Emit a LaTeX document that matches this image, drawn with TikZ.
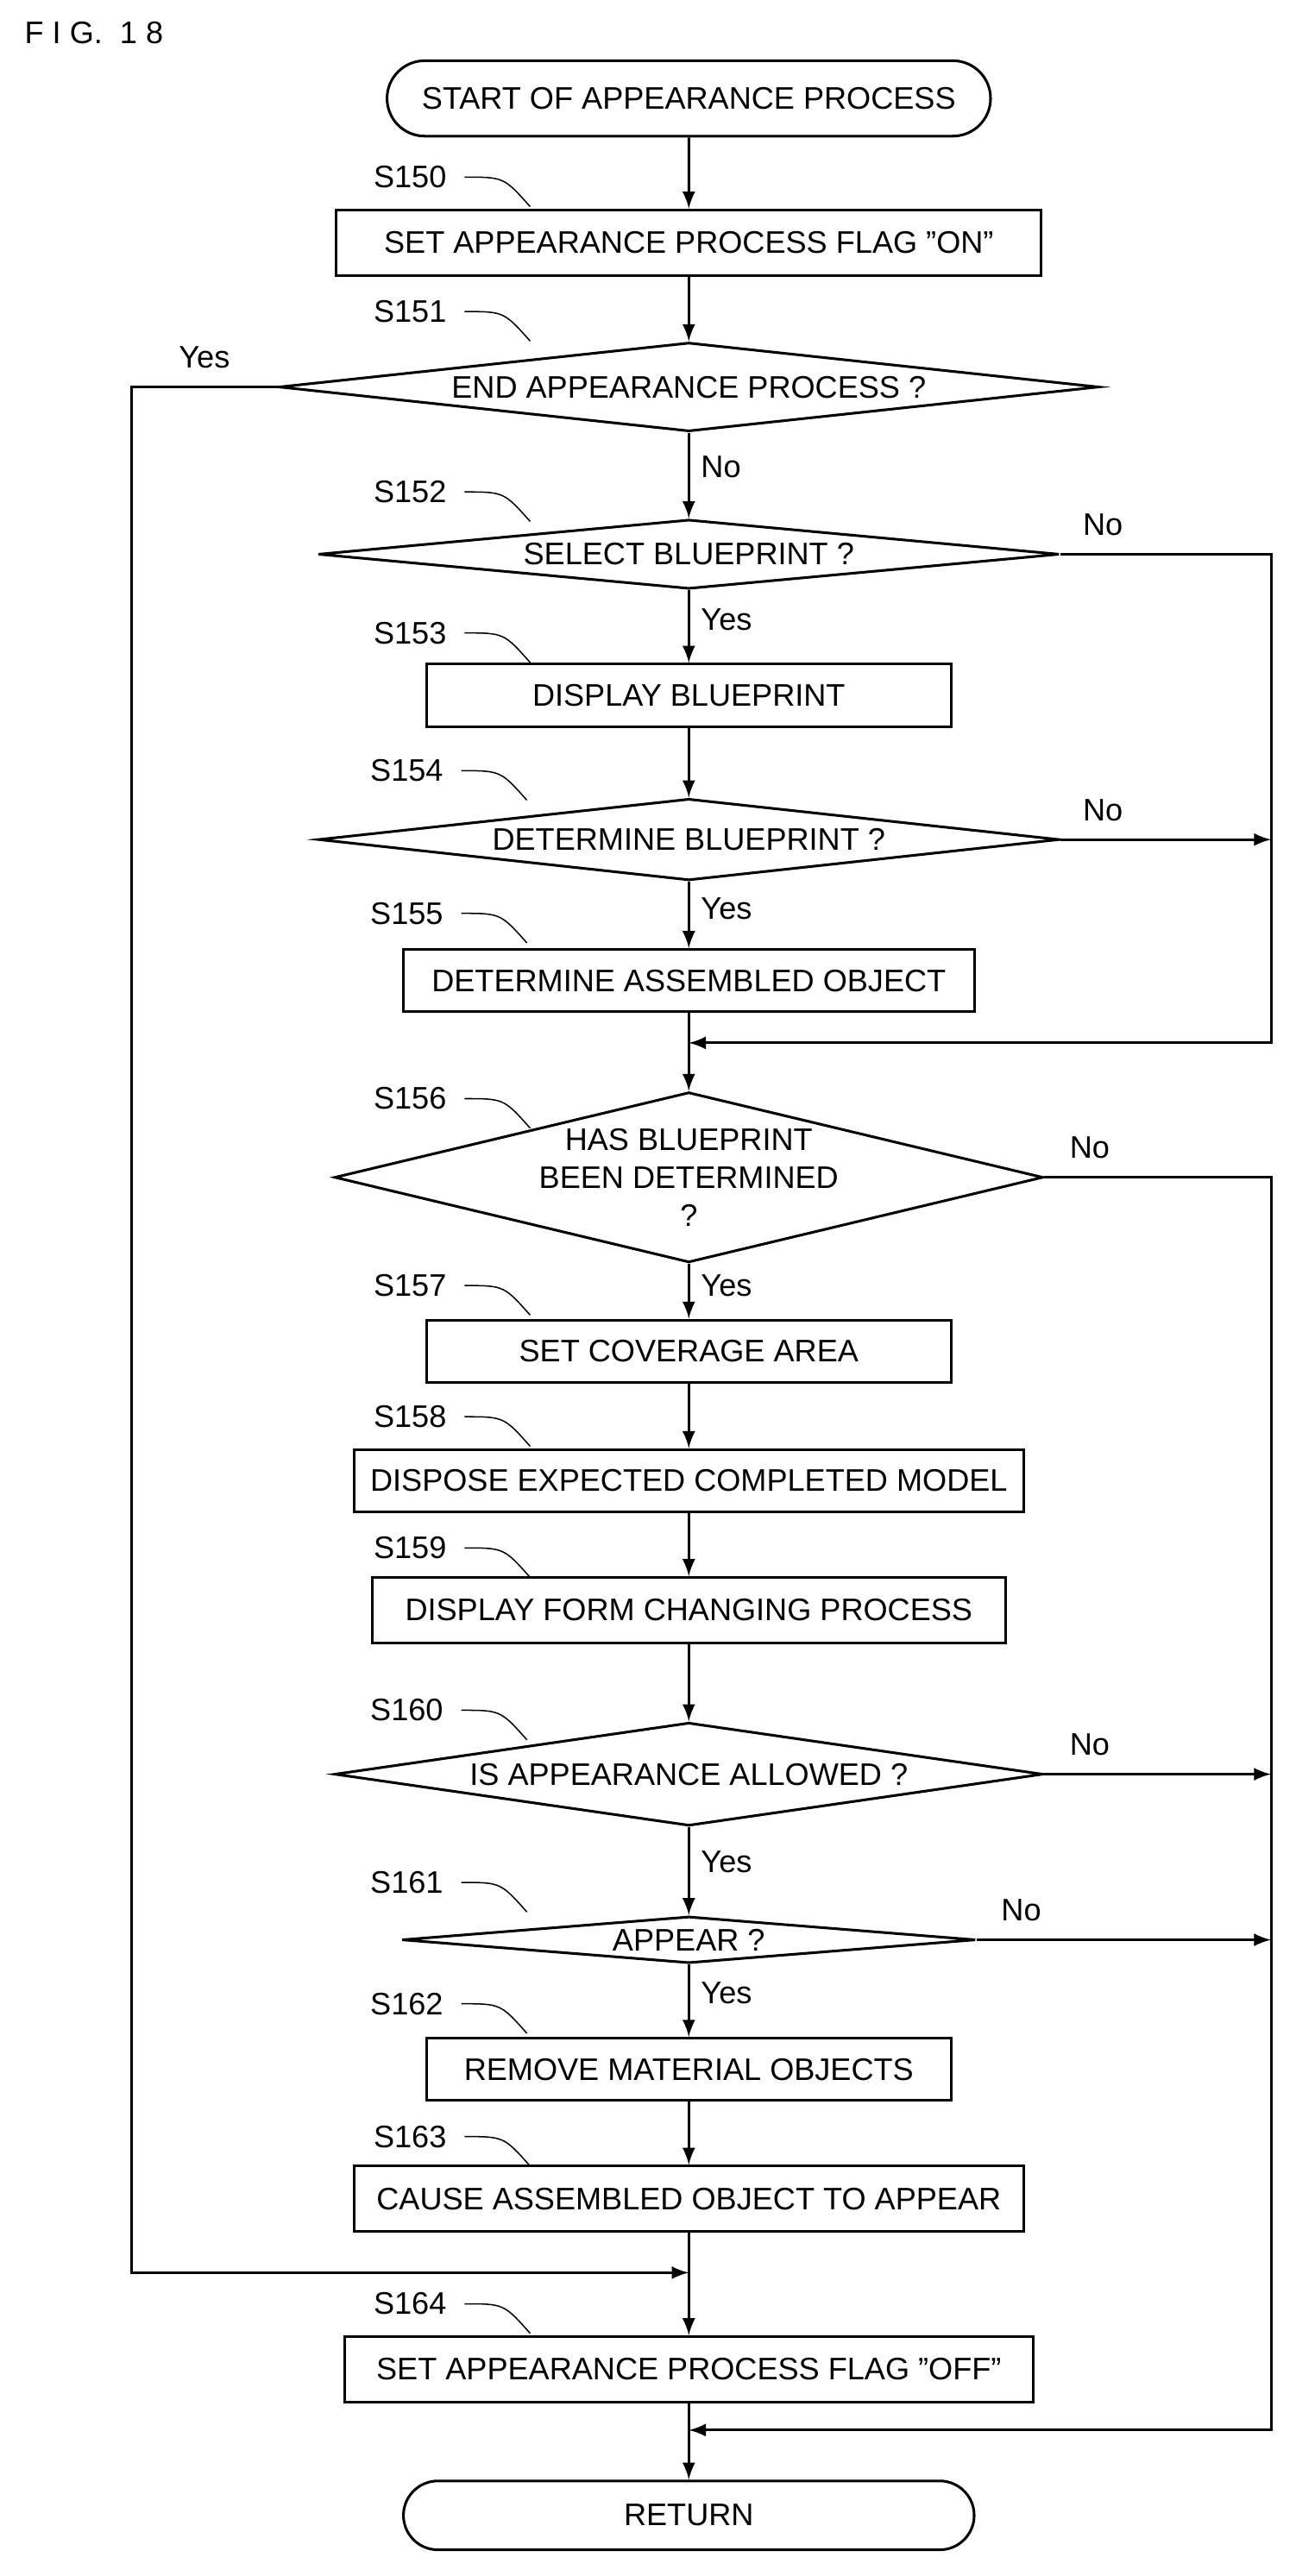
\documentclass[tikz,border=0pt]{standalone}
\usepackage{fontspec}
\setmainfont{Liberation Sans}
\usetikzlibrary{shapes.geometric,shapes.misc}
\tikzset{>=latex}
\tikzset{
  box/.style={draw,thick,rectangle,inner sep=0pt},
  term/.style={draw,thick,rounded rectangle,inner sep=0pt},
  dec/.style={draw,thick,diamond,inner sep=0pt,align=center},
  steplabel/.style={anchor=center},
  flow/.style={->,thick},
  leader/.style={thin}
}
\newcommand{\steplbl}[3]{%
  \node[steplabel] (#1) at (#2) {#3};
  \draw[leader] (#1.east) ++(4,0) .. controls +(24,0) .. +(40,18);}
\begin{document}
\begin{tikzpicture}[x=0.5pt,y=-0.5pt,font=\fontsize{9.5}{11.5}\selectfont]
  \useasboundingbox (0,0) rectangle (790,1571);
  \node[anchor=west] (title) at (8,20) {F I G.\ \ 1 8};
  % nodes
  \node[term,minimum width=184pt,minimum height=23pt] (start) at (420,60) {START OF APPEARANCE PROCESS};
  \node[box,minimum width=215pt,minimum height=20pt] (s150) at (420,148) {SET APPEARANCE PROCESS FLAG ”ON”};
  \node[dec,aspect=7.1,minimum width=250pt] (s151) at (420,236) {END APPEARANCE PROCESS ?};
  \node[dec,aspect=7,minimum width=226pt] (s152) at (420,338) {SELECT BLUEPRINT ?};
  \node[box,minimum width=160pt,minimum height=19pt] (s153) at (420,424) {DISPLAY BLUEPRINT};
  \node[dec,aspect=6.6,minimum width=226pt] (s154) at (420,512) {DETERMINE BLUEPRINT ?};
  \node[box,minimum width=174pt,minimum height=19pt] (s155) at (420,598) {DETERMINE ASSEMBLED OBJECT};
  \node[dec,aspect=4.1,minimum width=216pt] (s156) at (420,718) {HAS BLUEPRINT\\BEEN DETERMINED\\?};
  \node[box,minimum width=160pt,minimum height=19pt] (s157) at (420,824) {SET COVERAGE AREA};
  \node[box,minimum width=204pt,minimum height=19pt] (s158) at (420,903) {DISPOSE EXPECTED COMPLETED MODEL};
  \node[box,minimum width=193pt,minimum height=20pt] (s159) at (420,982) {DISPLAY FORM CHANGING PROCESS};
  \node[dec,aspect=5.4,minimum width=216pt] (s160) at (420,1082) {IS APPEARANCE ALLOWED ?};
  \node[dec,aspect=6.1,minimum width=175pt] (s161) at (420,1183) {APPEAR ?};
  \node[box,minimum width=160pt,minimum height=19pt] (s162) at (420,1262) {REMOVE MATERIAL OBJECTS};
  \node[box,minimum width=204pt,minimum height=20pt] (s163) at (420,1341) {CAUSE ASSEMBLED OBJECT TO APPEAR};
  \node[box,minimum width=210pt,minimum height=20pt] (s164) at (420,1445) {SET APPEARANCE PROCESS FLAG ”OFF”};
  \node[term,minimum width=174pt,minimum height=21pt] (ret) at (420,1534) {RETURN};
  \coordinate (m1) at (420,636);
  \coordinate (m2) at (420,1386);
  \coordinate (m3) at (420,1482);
  % step labels
  \steplbl{l150}{250,108}{S150}
  \steplbl{l151}{250,190}{S151}
  \steplbl{l152}{250,300}{S152}
  \steplbl{l153}{250,386}{S153}
  \steplbl{l154}{248,470}{S154}
  \steplbl{l155}{248,557}{S155}
  \steplbl{l156}{250,670}{S156}
  \steplbl{l157}{250,784}{S157}
  \steplbl{l158}{250,864}{S158}
  \steplbl{l159}{250,944}{S159}
  \steplbl{l160}{248,1043}{S160}
  \steplbl{l161}{248,1148}{S161}
  \steplbl{l162}{248,1222}{S162}
  \steplbl{l163}{250,1303}{S163}
  \steplbl{l164}{250,1405}{S164}
  % main flow
  \draw[flow] (start) -- (s150);
  \draw[flow] (s150) -- (s151);
  \draw[flow] (s151) -- node[pos=0.4,right]{No} (s152);
  \draw[flow] (s152) -- node[pos=0.4,right]{Yes} (s153);
  \draw[flow] (s153) -- (s154);
  \draw[flow] (s154) -- node[pos=0.4,right]{Yes} (s155);
  \draw[thick] (s155) -- (m1);
  \draw[flow] (m1) -- (s156);
  \draw[flow] (s156) -- node[pos=0.4,right]{Yes} (s157);
  \draw[flow] (s157) -- (s158);
  \draw[flow] (s158) -- (s159);
  \draw[flow] (s159) -- (s160);
  \draw[flow] (s160) -- node[pos=0.4,right]{Yes} (s161);
  \draw[flow] (s161) -- node[pos=0.4,right]{Yes} (s162);
  \draw[flow] (s162) -- (s163);
  \draw[thick] (s163) -- (m2);
  \draw[flow] (m2) -- (s164);
  \draw[thick] (s164) -- (m3);
  \draw[flow] (m3) -- (ret);
  % branches
  \draw[flow] (s151.west) -- node[pos=0.5,above,yshift=2pt]{Yes} (80,236) -- (80,1386) -- (m2);
  \draw[flow] (s152.east) -- node[pos=0.2,above,yshift=2pt]{No} (775,338) -- (775,636) -- (m1);
  \draw[flow] (s154.east) -- node[pos=0.2,above,yshift=2pt]{No} (775,512);
  \draw[flow] (s156.east) -- node[pos=0.2,above,yshift=2pt]{No} (775,718) -- (775,1482) -- (m3);
  \draw[flow] (s160.east) -- node[pos=0.2,above,yshift=2pt]{No} (775,1082);
  \draw[flow] (s161.east) -- node[pos=0.15,above,yshift=2pt]{No} (775,1183);
\end{tikzpicture}
\end{document}
